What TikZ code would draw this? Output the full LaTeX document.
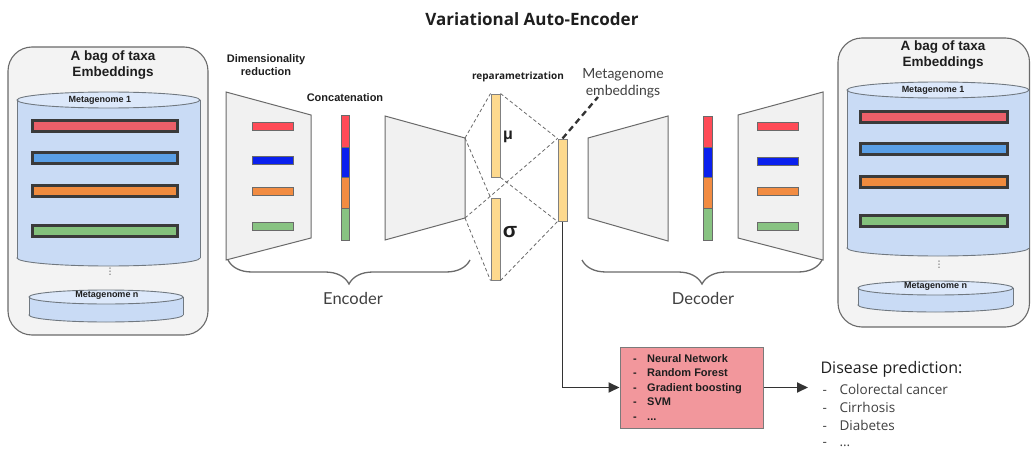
\documentclass[tikz,border=0pt]{standalone}
\usepackage{fontspec}
\setmainfont{Liberation Sans}
\newfontfamily\lato{Lato}
\newfontfamily\opens{Open Sans}
\newfontfamily\dejavu{DejaVu Sans}
\usetikzlibrary{decorations.pathreplacing,arrows.meta}
\definecolor{panelbg}{HTML}{F3F3F3}
\definecolor{panelline}{HTML}{6A6A6A}
\definecolor{cylfill}{HTML}{C9DBF5}
\definecolor{cyltop}{HTML}{DCE8FA}
\definecolor{cylline}{HTML}{707880}
\definecolor{bardark}{HTML}{3A3A3A}
\definecolor{pred}{HTML}{EC5F69}
\definecolor{pblue}{HTML}{5A9FE6}
\definecolor{porange}{HTML}{F08B3E}
\definecolor{pgreen}{HTML}{83C17C}
\definecolor{ered}{HTML}{FF4B57}
\definecolor{eblue}{HTML}{0A20EE}
\definecolor{eorange}{HTML}{F28C42}
\definecolor{egreen}{HTML}{88C382}
\definecolor{trapfill}{HTML}{F1F1F1}
\definecolor{trapline}{HTML}{6A6A6A}
\definecolor{yfill}{HTML}{FDD98E}
\definecolor{yline}{HTML}{808080}
\definecolor{boxfill}{HTML}{F2979C}
\definecolor{boxline}{HTML}{7A7A7A}
\definecolor{txt}{HTML}{1E1E1E}
\definecolor{softtxt}{HTML}{404040}
\definecolor{conn}{HTML}{333333}
\begin{document}
\begin{tikzpicture}[x=1pt,y=-1pt,
  panel/.style={draw=panelline,fill=panelbg,line width=1.1pt,rounded corners=24pt},
  cylside/.style={draw=cylline,line width=0.9pt},
  cylend/.style={draw=cylline,fill=cyltop,line width=0.9pt},
  taxabar/.style={draw=bardark,line width=3pt},
  trap/.style={draw=trapline,fill=trapfill,line width=1pt},
  smallbar/.style={draw=trapline,line width=0.8pt},
  segbar/.style={draw=trapline,line width=0.8pt},
  ybar/.style={draw=yline,fill=yfill,line width=1pt,inner sep=0pt,minimum width=9pt},
  dconn/.style={draw=panelline,dash pattern=on 3.5pt off 2.5pt,line width=0.8pt},
  bracestyle/.style={draw=panelline,line width=1.3pt,decorate,decoration={brace,mirror,amplitude=24pt,aspect=0.5}},
  smallbold/.style={font=\bfseries\fontsize{11}{13.5}\selectfont,text=txt,align=center},
  panelttl/.style={font=\bfseries\fontsize{13.5}{16}\selectfont,text=txt,align=center},
  cyllabel/.style={font=\bfseries\fontsize{9}{10}\selectfont,text=txt},
  bigsoft/.style={font=\lato\fontsize{16.5}{18}\selectfont,text=softtxt},
  dots/.style={text=softtxt,inner sep=0pt,font=\dejavu\fontsize{9}{9}\selectfont},
  disitem/.style={anchor=west,font=\opens\fontsize{13.5}{18}\selectfont,text=softtxt},
  arrowline/.style={draw=conn,line width=1.8pt,-{Triangle[length=11pt,width=10pt]}}
]
\useasboundingbox (0,0) rectangle (1031,452);

% title
\node[font=\opens\bfseries\fontsize{17}{19}\selectfont,text=txt] (title) at (532,19) {Variational Auto-Encoder};

% ---------- left panel ----------
\draw[panel] (8,47) rectangle (208,335);
\node[panelttl] (lttl) at (113,65) {A bag of taxa\\Embeddings};
% big cylinder
\draw[cylside,fill=cylfill] (108.5,258) ellipse [x radius=91.5, y radius=8];
\fill[cylfill] (17,100) rectangle (200,258);
\draw[cylside] (17,100) -- (17,258) (200,100) -- (200,258);
\draw[cylend] (108.5,100) ellipse [x radius=91.5, y radius=8];
\node[cyllabel] (lm1) at (100,100) {Metagenome 1};
\draw[taxabar,fill=pred] (32,120.5) rectangle (177,131.5);
\draw[taxabar,fill=pblue] (32,152.5) rectangle (177,163.5);
\draw[taxabar,fill=porange] (32,185.5) rectangle (177,196.5);
\draw[taxabar,fill=pgreen] (32,225.5) rectangle (177,236.5);
\node[dots] (ldots) at (110,272) {⋮};
% small cylinder
\draw[cylside,fill=cylfill] (106,315) ellipse [x radius=77, y radius=7];
\fill[cylfill] (29,297) rectangle (183,315);
\draw[cylside] (29,297) -- (29,315) (183,297) -- (183,315);
\draw[cylend] (106,297) ellipse [x radius=77, y radius=7];
\node[cyllabel] (lmn) at (107,295) {Metagenome n};

% ---------- right panel ----------
\draw[panel] (838,38) rectangle (1029.5,327);
\node[panelttl] (rttl) at (943,55) {A bag of taxa\\Embeddings};
\draw[cylside,fill=cylfill] (938,248) ellipse [x radius=91, y radius=8];
\fill[cylfill] (847,90) rectangle (1029,248);
\draw[cylside] (847,90) -- (847,248) (1029,90) -- (1029,248);
\draw[cylend] (938,90) ellipse [x radius=91, y radius=8];
\node[cyllabel] (rm1) at (933,90) {Metagenome 1};
\draw[taxabar,fill=pred] (860,111.5) rectangle (1007,122.5);
\draw[taxabar,fill=pblue] (860,143.5) rectangle (1007,154.5);
\draw[taxabar,fill=porange] (860,176.5) rectangle (1007,187.5);
\draw[taxabar,fill=pgreen] (860,215.5) rectangle (1007,226.5);
\node[dots] (rdots) at (939,265) {⋮};
\draw[cylside,fill=cylfill] (935.5,305) ellipse [x radius=77.5, y radius=7];
\fill[cylfill] (858,288) rectangle (1013,305);
\draw[cylside] (858,288) -- (858,305) (1013,288) -- (1013,305);
\draw[cylend] (935.5,288) ellipse [x radius=77.5, y radius=7];
\node[cyllabel] (rmn) at (935.5,286) {Metagenome n};

% ---------- encoder ----------
\node[smallbold] (dimred) at (266,65) {Dimensionality\\reduction};
\node[smallbold] (concat) at (345,98) {Concatenation};
\draw[trap] (226,92) -- (311,115) -- (311,238) -- (226,260) -- cycle;
\draw[smallbar,fill=ered] (252,122) rectangle (293,130);
\draw[smallbar,fill=eblue] (252,156) rectangle (293,164);
\draw[smallbar,fill=eorange] (252,187) rectangle (293,195);
\draw[smallbar,fill=egreen] (252,222) rectangle (293,230);
\draw[segbar,fill=ered] (341,115) rectangle (349.5,147);
\draw[segbar,fill=eblue] (341,147) rectangle (349.5,177);
\draw[segbar,fill=eorange] (341,177) rectangle (349.5,208);
\draw[segbar,fill=egreen] (341,208) rectangle (349.5,240);
\draw[trap] (385,116) -- (465,138) -- (465,218) -- (385,240) -- cycle;
\coordinate (tr) at (465,138);
\coordinate (br) at (465,218);
\draw[bracestyle] (228,260) -- (470,260);
\node[bigsoft] (enc) at (353,298) {Encoder};

% ---------- reparametrization ----------
\node[font=\opens\bfseries\fontsize{10}{12}\selectfont,text=txt] (rep) at (518,77) {reparametrization};
\node[ybar,minimum height=83pt] (mu) at (495.5,135.5) {};
\node[ybar,minimum height=82pt] (sigma) at (495.5,239) {};
\node[ybar,minimum height=82pt] (z) at (562.5,180) {};
\node[font=\bfseries\fontsize{16}{16}\selectfont,text=txt] (mulbl) at (508,137) {μ};
\node[font=\bfseries\fontsize{21}{21}\selectfont,text=txt] (siglbl) at (510,232) {σ};
\draw[dconn] (tr) -- (mu.north west);
\draw[dconn] (tr) -- (sigma.north west);
\draw[dconn] (br) -- (z.north west);
\draw[dconn] (br) -- (sigma.south west);
\draw[dconn] (mu.north east) -- (z.north west);
\draw[dconn] (mu.south east) -- (z.south west);
\draw[dconn] (sigma.south east) -- (z.south west);
\node[font=\lato\fontsize{14}{17}\selectfont,text=softtxt,align=center] (emb) at (623,83) {Metagenome\\embeddings};
\coordinate (embtip) at (598,97);
\draw[draw=conn,line width=2.3pt,dash pattern=on 6pt off 4pt] (z.north) -- (embtip);

% ---------- decoder ----------
\draw[trap] (588,138) -- (668,116) -- (668,241) -- (588,218) -- cycle;
\draw[segbar,fill=ered] (703,116) rectangle (712,147);
\draw[segbar,fill=eblue] (703,147) rectangle (712,177);
\draw[segbar,fill=eorange] (703,177) rectangle (712,208);
\draw[segbar,fill=egreen] (703,208) rectangle (712,240);
\draw[trap] (738,115) -- (823,92) -- (823,260) -- (738,238) -- cycle;
\draw[smallbar,fill=ered] (757,122) rectangle (798,130);
\draw[smallbar,fill=eblue] (757,157) rectangle (798,165);
\draw[smallbar,fill=eorange] (757,187) rectangle (798,195);
\draw[smallbar,fill=egreen] (757,222) rectangle (798,230);
\draw[bracestyle] (582,260) -- (822,260);
\node[bigsoft] (dec) at (703,298) {Decoder};

% ---------- classifier ----------
\node[draw=boxline,fill=boxfill,line width=1pt,minimum width=143pt,minimum height=81pt,inner sep=0pt] (clf) at (691.5,387.5) {};
\node[anchor=west,inner sep=0pt,align=left,font=\bfseries\fontsize{11}{14.5}\selectfont,text=txt] (clftext) at (633,387.5)
  {\makebox[14pt][l]{-}Neural Network\\\makebox[14pt][l]{-}Random Forest\\\makebox[14pt][l]{-}Gradient boosting\\\makebox[14pt][l]{-}SVM\\\makebox[14pt][l]{-}...};
\draw[arrowline] (z.south) |- (clf.west);
\coordinate (predtip) at (808,387.5);
\draw[arrowline] (clf.east) -- (predtip);
\node[anchor=west,font=\opens\fontsize{16}{18}\selectfont,text=txt] (dp) at (817,369) {Disease prediction:};
\node[disitem] (d1) at (819,389) {\makebox[17pt][l]{-}Colorectal cancer};
\node[disitem] (d2) at (819,407) {\makebox[17pt][l]{-}Cirrhosis};
\node[disitem] (d3) at (819,425) {\makebox[17pt][l]{-}Diabetes};
\node[disitem] (d4) at (819,445) {\makebox[17pt][l]{-}...};
\end{tikzpicture}
\end{document}
